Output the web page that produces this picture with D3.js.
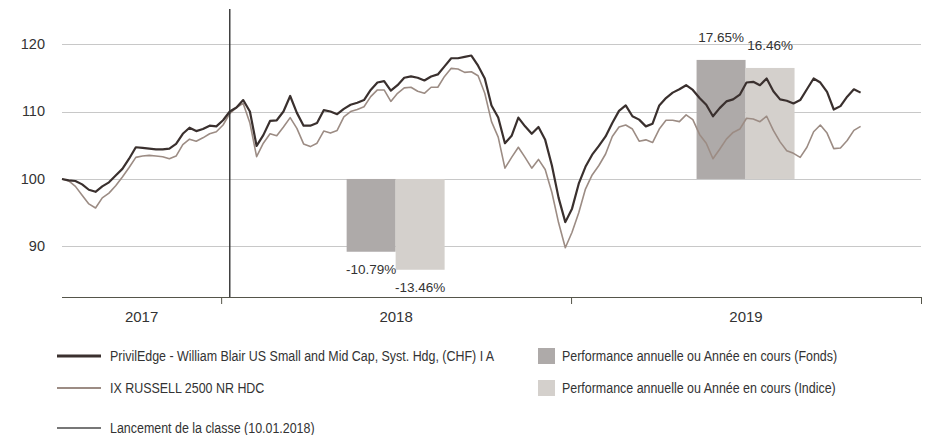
<!DOCTYPE html>
<html>
<head>
  <meta charset="utf-8" />
  <title>PrivilEdge - William Blair US Small and Mid Cap</title>
  <style>
    body { margin: 0; background: #fff; }
    svg { display: block; }
    text { fill: #333; font-family: "Liberation Sans", Arial, sans-serif; }
    .grid line { stroke: #c8c8c8; stroke-width: 1; }
  </style>
</head>
<body>
  <svg></svg>
  <script src="https://d3js.org/d3.v7.min.js"></script>
  <script>
    var width = 927, height = 435;

    // weekly observations (Wednesdays), 19.07.2017 -> 30.10.2019
    var startDate = new Date(2017, 6, 19),
      endDate = new Date(2019, 9, 31);

    var fundValues = [
      100.0, 99.8, 99.7, 99.2, 98.4, 98.1, 98.9, 99.5, 100.5, 101.5,
      103.0, 104.7, 104.6, 104.5, 104.4, 104.4, 104.5, 105.2, 106.7, 107.6,
      107.1, 107.4, 107.9, 107.8, 108.7, 110.0, 110.6, 111.7, 110.0, 104.9,
      106.5, 108.6, 108.7, 110.0, 112.3, 109.8, 107.9, 107.9, 108.3, 110.2,
      110.0, 109.6, 110.4, 111.0, 111.3, 111.7, 113.2, 114.3, 114.5, 113.1,
      113.9, 115.0, 115.2, 115.0, 114.6, 115.2, 115.5, 116.7, 117.9, 117.9,
      118.1, 118.3, 116.8, 114.9, 110.9, 109.1, 105.3, 106.4, 109.1, 107.8,
      106.7, 107.7, 105.8, 102.0, 97.2, 93.6, 95.6, 99.3, 101.8, 103.6,
      104.9, 106.3, 108.3, 110.1, 110.9, 109.3, 108.8, 107.8, 108.2, 110.9,
      112.0, 112.8, 113.3, 113.9, 113.2, 112.0, 111.0, 109.3, 110.5, 111.5,
      111.8, 112.5, 114.3, 114.4, 113.9, 114.9, 113.0, 111.8, 111.6, 111.2,
      111.7, 113.3, 114.9, 114.3, 112.9, 110.3, 110.8, 112.2, 113.3, 112.8
    ];
    var indexValues = [
      100.0, 99.7, 98.9, 97.6, 96.3, 95.7, 97.2, 97.9, 99.0, 100.3,
      101.7, 103.2, 103.4, 103.5, 103.4, 103.3, 103.0, 103.4, 105.1, 105.9,
      105.6, 106.1, 106.7, 107.0, 108.0, 109.7, 110.6, 111.2, 108.3, 103.3,
      105.3, 106.7, 106.4, 107.7, 109.1, 107.5, 105.2, 104.8, 105.3, 107.1,
      106.8, 107.2, 109.2, 110.0, 110.3, 110.7, 112.2, 113.2, 113.2, 111.5,
      112.7, 113.5, 113.6, 113.0, 112.7, 113.6, 113.6, 115.2, 116.4, 116.3,
      115.8, 115.9, 115.3, 112.7, 108.5, 106.2, 101.6, 103.2, 104.7, 103.2,
      101.6, 102.9, 101.4, 98.0, 93.5, 89.8, 92.1, 95.0, 98.5, 100.6,
      102.0, 103.7, 106.3, 107.7, 108.0, 107.4, 105.6, 105.8, 105.4, 107.4,
      108.7, 108.7, 108.5, 109.5, 108.8, 106.6, 105.3, 103.0, 104.4, 105.9,
      106.9, 107.4, 109.0, 108.9, 108.5, 109.3, 107.2, 105.5, 104.2, 103.8,
      103.2, 104.7, 107.0, 108.0, 106.8, 104.5, 104.6, 105.7, 107.2, 107.8
    ];

    // annual performance bars
    var perfYears = [2018, 2019];
    var fundPerf = [-10.79, 17.65];
    var indexPerf = [-13.46, 16.46];

    var yTicks = [90, 100, 110, 120];
    var yearLabels = [2017, 2018, 2019];
    var launchDate = new Date(2018, 0, 10);

    var legendLines = [
      { label: "PrivilEdge - William Blair US Small and Mid Cap, Syst. Hdg, (CHF) I A", color: "#3a302e", w: 3 },
      { label: "IX RUSSELL 2500 NR HDC", color: "#9c8c84", w: 2 },
      { label: "Lancement de la classe (10.01.2018)", color: "#4a4a4a", w: 1.6 }
    ];
    var legendBoxes = [
      { label: "Performance annuelle ou Année en cours (Fonds)", color: "#aeaaa9" },
      { label: "Performance annuelle ou Année en cours (Indice)", color: "#d4d0cc" }
    ];

    var dates = d3.timeWednesday.range(startDate, endDate);
    var n = Math.min(dates.length, fundValues.length, indexValues.length);
    var fund = d3.range(n).map(i => ({ date: dates[i], v: fundValues[i] }));
    var index = d3.range(n).map(i => ({ date: dates[i], v: indexValues[i] }));

    // note: "top" is reserved on window, so use a margin object
    var m = { left: 62, right: 921, top: 9, bottom: 297 };
    var x = d3.scaleTime()
      .domain([startDate, new Date(2020, 0, 1)])
      .range([m.left, m.right]);
    var y = d3.scaleLinear()
      .domain([82.5, 125.2])
      .range([m.bottom, m.top]);

    var svg = d3.select("svg")
      .attr("width", width)
      .attr("height", height);

    // grid
    svg.append("g")
      .attr("class", "grid")
      .selectAll("line")
      .data(yTicks)
      .enter()
      .append("line")
      .attr("x1", m.left).attr("x2", m.right)
      .attr("y1", d => Math.round(y(d)) + 0.5)
      .attr("y2", d => Math.round(y(d)) + 0.5);

    svg.append("g")
      .selectAll("text")
      .data(yTicks)
      .enter()
      .append("text")
      .attr("x", 45)
      .attr("y", d => y(d))
      .attr("dy", "0.33em")
      .attr("text-anchor", "end")
      .style("font-size", "14.5px")
      .text(d => d);

    // performance bars
    var groupW = x(new Date(2019, 0, 1)) - x(new Date(2018, 0, 1));
    var barW = groupW * 0.14;
    var sub = d3.scaleBand().domain(["fund", "index"]).range([-barW, barW]);
    var barColor = { fund: legendBoxes[0].color, index: legendBoxes[1].color };

    var bars = [];
    perfYears.forEach(function (yr, i) {
      var mid = x(new Date(yr, 6, 2));
      bars.push({ key: "fund", mid: mid, v: fundPerf[i] });
      bars.push({ key: "index", mid: mid, v: indexPerf[i] });
    });

    svg.append("g")
      .selectAll("rect")
      .data(bars)
      .enter()
      .append("rect")
      .attr("x", d => d.mid + sub(d.key))
      .attr("width", sub.bandwidth())
      .attr("y", d => Math.min(y(100), y(100 + d.v)))
      .attr("height", d => Math.abs(y(100 + d.v) - y(100)))
      .attr("fill", d => barColor[d.key]);

    svg.append("g")
      .selectAll("text")
      .data(bars)
      .enter()
      .append("text")
      .attr("x", d => d.mid + sub(d.key) + sub.bandwidth() / 2)
      .attr("y", d => d.v < 0 ? y(100 + d.v) + 22 : y(100 + d.v) - 18)
      .attr("text-anchor", "middle")
      .style("font-size", "13.5px")
      .text(d => d.v.toFixed(2) + "%");

    // series
    var line = d3.line()
      .x(d => x(d.date))
      .y(d => y(d.v));

    svg.append("path")
      .datum(index)
      .attr("fill", "none")
      .attr("stroke", legendLines[1].color)
      .attr("stroke-width", 1.6)
      .attr("stroke-linejoin", "round")
      .attr("d", line);

    svg.append("path")
      .datum(fund)
      .attr("fill", "none")
      .attr("stroke", legendLines[0].color)
      .attr("stroke-width", 2.2)
      .attr("stroke-linejoin", "round")
      .attr("d", line);

    // launch marker
    svg.append("line")
      .attr("x1", x(launchDate)).attr("x2", x(launchDate))
      .attr("y1", m.top).attr("y2", m.bottom)
      .attr("stroke", "#333")
      .attr("stroke-width", 1.4);

    // x axis
    var xAxis = d3.axisBottom(x)
      .tickValues([new Date(2018, 0, 1), new Date(2019, 0, 1), new Date(2020, 0, 1)])
      .tickSize(7)
      .tickFormat("");
    var gx = svg.append("g")
      .attr("transform", "translate(0," + m.bottom + ")")
      .call(xAxis);
    gx.select(".domain").attr("stroke", "#55554a").attr("d", "M" + m.left + ",0.5H" + m.right);
    gx.selectAll(".tick line").attr("stroke", "#55554a");

    svg.append("g")
      .selectAll("text")
      .data(yearLabels)
      .enter()
      .append("text")
      .attr("x", d => (Math.max(m.left, x(new Date(d, 0, 1))) + x(new Date(d + 1, 0, 1))) / 2)
      .attr("y", 322)
      .attr("text-anchor", "middle")
      .style("font-size", "15px")
      .text(d => d);

    // legend (condensed look: squeeze the text horizontally)
    var legendRowY = [356, 388, 428];
    var squeeze = 0.83;
    var lg = svg.append("g").attr("class", "legend");
    legendLines.forEach(function (d, i) {
      lg.append("line")
        .attr("x1", 57).attr("x2", 101)
        .attr("y1", legendRowY[i]).attr("y2", legendRowY[i])
        .attr("stroke", d.color)
        .attr("stroke-width", d.w);
      lg.append("text")
        .attr("transform", "translate(110," + (legendRowY[i] + 4.5) + ") scale(" + squeeze + ",1)")
        .style("font-size", "15px")
        .text(d.label);
    });
    legendBoxes.forEach(function (d, i) {
      lg.append("rect")
        .attr("x", 538).attr("y", legendRowY[i] - 8)
        .attr("width", 17).attr("height", 16)
        .attr("fill", d.color);
      lg.append("text")
        .attr("transform", "translate(562," + (legendRowY[i] + 4.5) + ") scale(" + squeeze + ",1)")
        .style("font-size", "15px")
        .text(d.label);
    });
  </script>
</body>
</html>
